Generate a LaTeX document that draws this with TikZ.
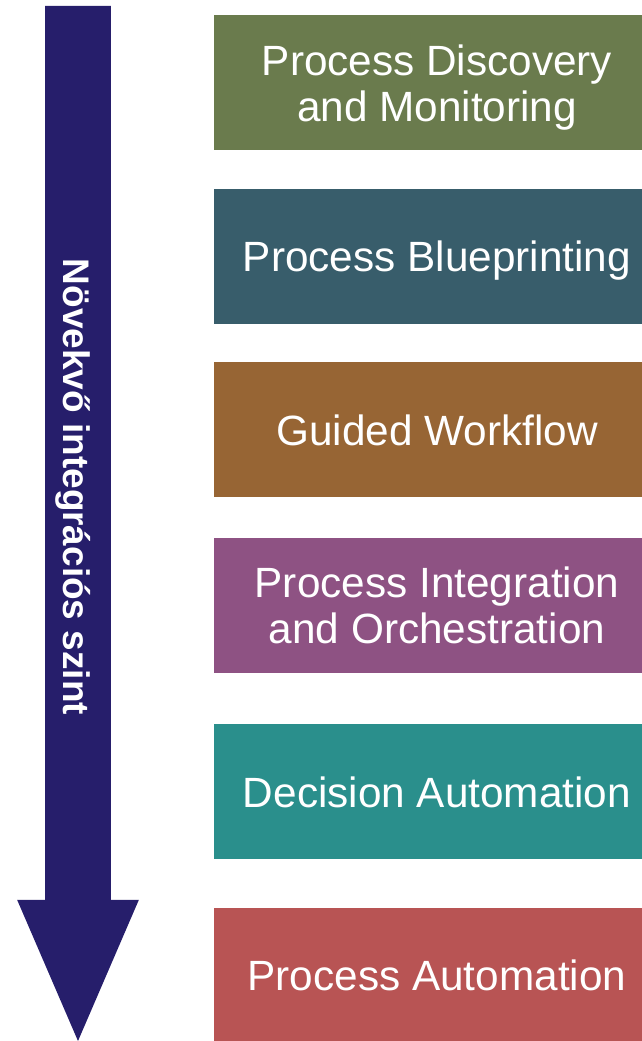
\documentclass[tikz,border=0pt]{standalone}
\usepackage{fontspec}
\setmainfont{Liberation Sans}
\usetikzlibrary{positioning}
\definecolor{arrowblue}{RGB}{38,30,107}
\definecolor{stgreen}{RGB}{106,123,77}
\definecolor{stslate}{RGB}{56,93,107}
\definecolor{stbrown}{RGB}{151,101,52}
\definecolor{stpurple}{RGB}{142,82,131}
\definecolor{stteal}{RGB}{42,143,140}
\definecolor{stred}{RGB}{184,84,84}
\tikzset{
  stage/.style={rectangle, minimum width=11.15cm, minimum height=3.375cm, inner sep=0pt, text depth=0pt, text centered, align=center, text=white, font=\fontsize{30.1}{32.5}\selectfont},
  lvl/.style={text=white, inner sep=0pt, font=\bfseries\fontsize{26.3}{30}\selectfont}
}

\begin{document}
\begin{tikzpicture}
\useasboundingbox (0,0) rectangle (16.05,26.025);
% big arrow
\fill[arrowblue] (1.13,25.875) -- (2.77,25.875) -- (2.77,3.525) -- (3.47,3.525) -- (1.95,0) -- (0.43,3.525) -- (1.13,3.525) -- cycle;
\node[lvl, rotate=-90, anchor=base] (level) at (1.575,13.85) {Növekvő integrációs szint};
% stages
\node[stage, fill=stgreen] (pdm) at (10.925,23.95) {Process Discovery\\and Monitoring};
\node[stage, fill=stslate, below=0.94cm of pdm] (pb) {Process Blueprinting};
\node[stage, fill=stbrown, below=0.95cm of pb] (gw) {Guided Workflow};
\node[stage, fill=stpurple, below=1cm of gw] (pio) {Process Integration\\and Orchestration};
\node[stage, fill=stteal, below=1.275cm of pio] (da) {Decision Automation};
\node[stage, fill=stred, below=1.2cm of da] (pa) {Process Automation};
\end{tikzpicture}
\end{document}
